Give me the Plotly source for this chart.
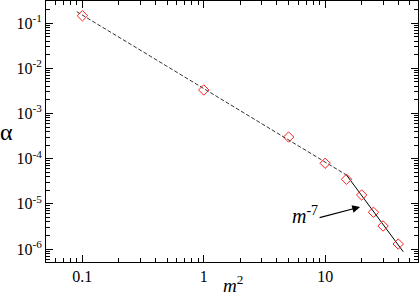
import math
import plotly.graph_objects as go

# data
m2_vals = [0.1, 1, 5, 10, 15, 20, 25, 30, 40]
alpha_vals = [0.145, 0.0033, 3.0e-4, 7.9e-5, 3.5e-5, 1.57e-5, 6.5e-6, 3.23e-6, 1.29e-6]
dash_x = [0.09, 15]
dash_y = [0.178, 4.34e-5]
solid_x = [15, 44]
solid_y = [4.34e-5, 8.7e-7]
y_tickvals = [1e-1, 1e-2, 1e-3, 1e-4, 1e-5, 1e-6]
y_ticktext = ["10<sup>-1</sup>", "10<sup>-2</sup>", "10<sup>-3</sup>", "10<sup>-4</sup>", "10<sup>-5</sup>", "10<sup>-6</sup>"]
x_tickvals = [0.1, 1, 10]
x_ticktext = ["0.1", "1", "10"]
x_minor = [0.06, 0.07, 0.08, 0.09] + [k * 0.1 for k in range(2, 10)] + list(range(2, 10)) + [20, 30, 40, 50]
y_minor = [k * 10.0 ** e for e in range(-7, 0) for k in range(2, 10)]
arrow_head = (19.4, 8.5e-6)
arrow_tail = (8.75, 4.85e-6)
label_pos = (9.1, 5.65e-6)

L = math.log10
FONT = "Liberation Serif, Times New Roman, serif"

fig = go.Figure()
fig.add_trace(go.Scatter(x=dash_x, y=dash_y, mode="lines",
                         line=dict(color="#333333", width=1, dash="4px,2px"), showlegend=False))
fig.add_trace(go.Scatter(x=solid_x, y=solid_y, mode="lines",
                         line=dict(color="black", width=1), showlegend=False))
fig.add_trace(go.Scatter(x=m2_vals, y=alpha_vals, mode="markers",
                         marker=dict(symbol="diamond-open", size=8, color="#ff2020", line=dict(width=1)),
                         showlegend=False))

axis_common = dict(type="log", showgrid=False, zeroline=False, showline=True, linecolor="black",
                   linewidth=1, mirror="ticks", ticks="inside", ticklen=7, tickcolor="black",
                   tickfont=dict(family=FONT, size=16, color="black"))

fig.update_xaxes(**axis_common, range=[-1.2996, 1.765], tickmode="array", tickvals=x_tickvals, ticktext=x_ticktext,
                 minor=dict(tickmode="array", tickvals=x_minor, ticks="inside", ticklen=4,
                            tickcolor="black", showgrid=False))
fig.update_yaxes(**axis_common, range=[-6.287, -0.513], tickmode="array", tickvals=y_tickvals, ticktext=y_ticktext,
                 minor=dict(tickmode="array", tickvals=y_minor, ticks="inside", ticklen=4,
                            tickcolor="black", showgrid=False))

fig.add_annotation(x=L(arrow_head[0]), y=L(arrow_head[1]), ax=L(arrow_tail[0]), ay=L(arrow_tail[1]),
                   xref="x", yref="y", axref="x", ayref="y", text="", showarrow=True,
                   arrowhead=2, arrowsize=1.3, arrowwidth=1.2, arrowcolor="black")
fig.add_annotation(x=L(label_pos[0]), y=L(label_pos[1]), xref="x", yref="y", showarrow=False,
                   xanchor="right", yanchor="middle", text="<i>m</i><sup>-7</sup>",
                   font=dict(family=FONT, size=20, color="black"))
# axis titles
fig.add_annotation(x=0.503, y=-0.134, xref="paper", yref="paper", showarrow=False,
                   xanchor="center", yanchor="bottom", borderpad=0, text="<i>m</i><sup>2</sup>",
                   font=dict(family=FONT, size=19, color="black"))
fig.add_annotation(x=-0.105, y=0.5, xref="paper", yref="paper", showarrow=False,
                   xanchor="center", yanchor="middle", text="α",
                   font=dict(family=FONT, size=24, color="black"))

fig.update_layout(width=420, height=296, margin=dict(l=46, r=2, t=1, b=34),
                  plot_bgcolor="white", paper_bgcolor="white")
fig.write_html("out.html", config={"displayModeBar": False},
               post_script="document.body.style.margin='0';document.body.style.padding='0';")
